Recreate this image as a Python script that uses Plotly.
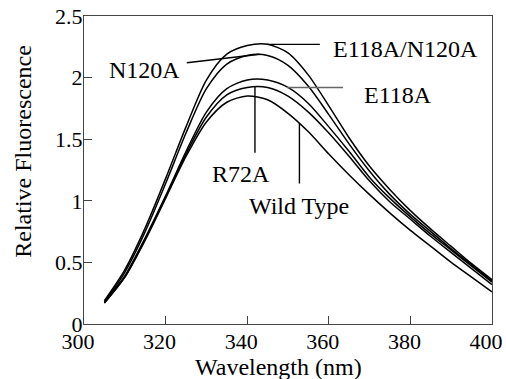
import plotly.graph_objects as go

wavelength = [305, 310, 315, 320, 325, 330, 335, 340, 345, 350,
              355, 360, 365, 370, 375, 380, 385, 390, 395, 400]

e118a_n120a = [0.19, 0.44, 0.78, 1.18, 1.60, 1.98, 2.19, 2.26, 2.27, 2.20,
               2.02, 1.77, 1.51, 1.28, 1.09, 0.92, 0.77, 0.63, 0.49, 0.36]
n120a = [0.18, 0.42, 0.75, 1.14, 1.55, 1.91, 2.11, 2.18, 2.18, 2.10,
         1.93, 1.70, 1.46, 1.24, 1.05, 0.89, 0.75, 0.61, 0.48, 0.35]
e118a = [0.18, 0.39, 0.70, 1.04, 1.40, 1.72, 1.91, 1.98, 1.98, 1.92,
         1.79, 1.60, 1.40, 1.19, 1.02, 0.87, 0.73, 0.60, 0.47, 0.34]
r72a = [0.17, 0.38, 0.69, 1.03, 1.38, 1.68, 1.86, 1.92, 1.92, 1.85,
        1.72, 1.55, 1.36, 1.16, 0.99, 0.85, 0.71, 0.58, 0.45, 0.32]
wild_type = [0.17, 0.38, 0.68, 1.02, 1.36, 1.64, 1.80, 1.85, 1.82, 1.71,
             1.56, 1.38, 1.21, 1.05, 0.90, 0.76, 0.63, 0.50, 0.38, 0.26]

series = [("E118A/N120A", e118a_n120a), ("N120A", n120a), ("E118A", e118a),
          ("R72A", r72a), ("Wild Type", wild_type)]

x_ticks = [300, 320, 340, 360, 380, 400]
y_ticks = [0, 0.5, 1, 1.5, 2, 2.5]
y_tick_text = ["0", "0.5", "1", "1.5", "2", "2.5"]

# label texts, label anchor positions (data units) and leader lines (data units)
label_text = ["N120A", "E118A/N120A", "E118A", "R72A", "Wild Type"]
label_x = [314.8, 378.7, 377.0, 338.6, 352.6]
label_y = [2.06, 2.23, 1.86, 1.22, 0.96]
leader_x0 = [325.2, 344.8, 349.7, 341.9, 352.8]
leader_y0 = [2.12, 2.27, 1.92, 1.93, 1.63]
leader_x1 = [343.1, 357.8, 363.5, 341.9, 352.8]
leader_y1 = [2.19, 2.27, 1.92, 1.39, 1.14]
leader_color = ["black", "black", "#666666", "black", "black"]

FONT = "Liberation Serif, Tinos, Times New Roman, serif"

fig = go.Figure()
for name, vals in series:
    fig.add_trace(go.Scatter(x=wavelength, y=vals, mode="lines", name=name,
                             line=dict(color="black", width=1.5, shape="spline",
                                       smoothing=0.8),
                             showlegend=False))

for i in range(len(leader_x0)):
    fig.add_shape(type="line", xref="x", yref="y",
                  x0=leader_x0[i], y0=leader_y0[i], x1=leader_x1[i], y1=leader_y1[i],
                  line=dict(color=leader_color[i], width=1.4))

for t, lx, ly in zip(label_text, label_x, label_y):
    fig.add_annotation(x=lx, y=ly, xref="x", yref="y", text=t, showarrow=False,
                       xanchor="center", yanchor="middle",
                       font=dict(family=FONT, size=24, color="black"))

fig.add_annotation(x=0.477, y=-0.141, xref="paper", yref="paper",
                   text="Wavelength (nm)", showarrow=False,
                   xanchor="center", yanchor="middle",
                   font=dict(family=FONT, size=24, color="black"))
fig.add_annotation(x=-0.15, y=0.562, xref="paper", yref="paper",
                   text="Relative Fluorescence", showarrow=False, textangle=-90,
                   xanchor="center", yanchor="middle",
                   font=dict(family=FONT, size=24, color="black"))

fig.update_layout(
    width=506, height=379,
    margin=dict(l=84, r=14, t=16, b=55, autoexpand=False),
    paper_bgcolor="white", plot_bgcolor="white",
    font=dict(family=FONT, size=22, color="black"),
)
fig.update_xaxes(range=[300, 400], tickvals=x_ticks, ticks="inside", ticklen=8,
                 tickcolor="#444", showline=True, linecolor="#444", linewidth=1,
                 mirror=True, showgrid=False, zeroline=False, automargin=False,
                 ticklabelshift=-6, ticklabelstandoff=-2, ticklabeloverflow="allow",
                 tickfont=dict(family=FONT, size=22, color="black"))
fig.update_yaxes(range=[0, 2.5], tickvals=y_ticks, ticktext=y_tick_text,
                 ticks="inside", ticklen=8, automargin=False,
                 ticklabelstandoff=-4, ticklabeloverflow="allow",
                 tickcolor="#444", showline=True, linecolor="#444", linewidth=1,
                 mirror=True, showgrid=False, zeroline=False,
                 tickfont=dict(family=FONT, size=22, color="black"))

fig.write_html("out.html", config={"displayModeBar": False},
               post_script="document.body.style.margin='0';document.body.style.overflow='hidden';")
